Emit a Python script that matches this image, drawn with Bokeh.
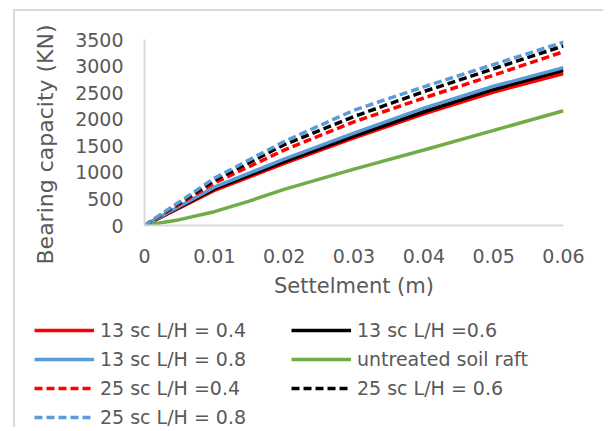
from bokeh.plotting import figure
from bokeh.models import Legend, LegendItem, Range1d, Title
from bokeh.embed import file_html
from bokeh.resources import INLINE

# Data
settlement = [0, 0.01, 0.02, 0.03, 0.04, 0.05, 0.06]
sc13_lh04 = [0, 660, 1170, 1650, 2100, 2510, 2860]
sc13_lh06 = [0, 690, 1200, 1680, 2140, 2560, 2920]
sc13_lh08 = [0, 720, 1250, 1740, 2210, 2620, 2970]
settlement_untreated = [0, 0.005, 0.01, 0.015, 0.02, 0.03, 0.04, 0.05, 0.06]
untreated = [0, 110, 260, 460, 680, 1060, 1420, 1790, 2160]
sc25_lh04 = [0, 800, 1420, 1950, 2400, 2830, 3270]
sc25_lh06 = [0, 850, 1520, 2050, 2520, 2950, 3380]
sc25_lh08 = [0, 890, 1580, 2170, 2610, 3030, 3450]

series_labels = ["13 sc L/H = 0.4", "13 sc L/H =0.6", "13 sc L/H = 0.8",
                 "untreated soil raft", "25 sc L/H =0.4", "25 sc L/H = 0.6",
                 "25 sc L/H = 0.8"]
x_ticks = [0, 0.01, 0.02, 0.03, 0.04, 0.05, 0.06]
x_tick_labels = ["0", "0.01", "0.02", "0.03", "0.04", "0.05", "0.06"]
y_ticks = [0, 500, 1000, 1500, 2000, 2500, 3000, 3500]

FONT = "DejaVu Sans"
TXT = "#595959"
AX = "#d9d9d9"
BORDER = "2px solid #d9d9d9"

LW = 3.5
DASH = "8 4"
styles = [
    dict(line_color="#ff0000", line_width=LW),
    dict(line_color="#000000", line_width=LW),
    dict(line_color="#5b9bd5", line_width=LW),
    dict(line_color="#70ad47", line_width=LW),
    dict(line_color="#ff0000", line_width=LW, line_dash=DASH),
    dict(line_color="#000000", line_width=LW, line_dash=DASH),
    dict(line_color="#5b9bd5", line_width=LW, line_dash=DASH),
]
data = [
    (settlement, sc13_lh04),
    (settlement, sc13_lh06),
    (settlement, sc13_lh08),
    (settlement_untreated, untreated),
    (settlement, sc25_lh04),
    (settlement, sc25_lh06),
    (settlement, sc25_lh08),
]

# ---------------- main chart ----------------
p = figure(width=590, height=289, output_backend="svg", toolbar_location=None,
           x_range=Range1d(0, 0.06), y_range=Range1d(0, 3500),
           min_border_left=129, min_border_right=42, min_border_top=28, min_border_bottom=73)
p.margin = (9, 0, 0, 13)
p.styles = {"border-left": BORDER, "border-top": BORDER}
p.outline_line_color = None
p.grid.grid_line_color = None
p.background_fill_color = "white"
p.border_fill_color = "white"

for ax in (p.xaxis[0], p.yaxis[0]):
    ax.axis_line_color = AX
    ax.axis_line_width = 2
    ax.major_tick_line_color = None
    ax.minor_tick_line_color = None
    ax.major_label_text_font = FONT
    ax.major_label_text_font_size = "19px"
    ax.major_label_text_color = TXT
    ax.axis_label_text_font = FONT
    ax.axis_label_text_font_style = "normal"
    ax.axis_label_text_color = TXT

p.xaxis.axis_label_text_font_size = "21px"
p.xaxis.ticker = x_ticks
p.yaxis.ticker = y_ticks
p.xaxis.major_label_overrides = dict(zip(x_ticks, x_tick_labels))
p.xaxis.axis_label = "Settelment (m)"
p.xaxis.major_label_standoff = 17
p.yaxis.major_label_standoff = 15
p.xaxis.axis_label_standoff = 8

ytitle = Title(text="Bearing capacity (KN)", align="left", offset=-39, standoff=30,
               text_font=FONT, text_font_size="22px", text_font_style="normal",
               text_color=TXT)
p.add_layout(ytitle, "left")

for (xs, ys), st in zip(data, styles):
    p.line(xs, ys, **st)

# ---------------- legend area (separate root, no frame alignment) ----------------
q = figure(width=590, height=129, output_backend="svg", toolbar_location=None,
           x_range=Range1d(1, 2), y_range=Range1d(10000, 20000),
           x_axis_location=None, y_axis_location=None,
           min_border_left=0, min_border_right=0, min_border_top=0, min_border_bottom=0)
q.margin = (0, 0, 0, 13)
q.styles = {"border-left": BORDER}
q.outline_line_color = None
q.grid.grid_line_color = None
q.border_fill_color = "white"
q.background_fill_color = "white"

items = []
for lab, (xs, ys), st in zip(series_labels, data, styles):
    r = q.line(xs, ys, **st)  # outside q's visible ranges; only used for legend glyphs
    items.append(LegendItem(label=lab, renderers=[r]))

legend = Legend(items=items, orientation="horizontal", ncols=2,
                location=(19, -1),
                glyph_width=60, glyph_height=22, label_height=22,
                label_width=184, label_standoff=6, spacing=7, padding=0, margin=0,
                border_line_color=None, background_fill_alpha=0,
                label_text_font=FONT, label_text_font_size="19px", label_text_color=TXT)
q.add_layout(legend, "center")

open("out.html", "w").write(file_html([p, q], INLINE))
